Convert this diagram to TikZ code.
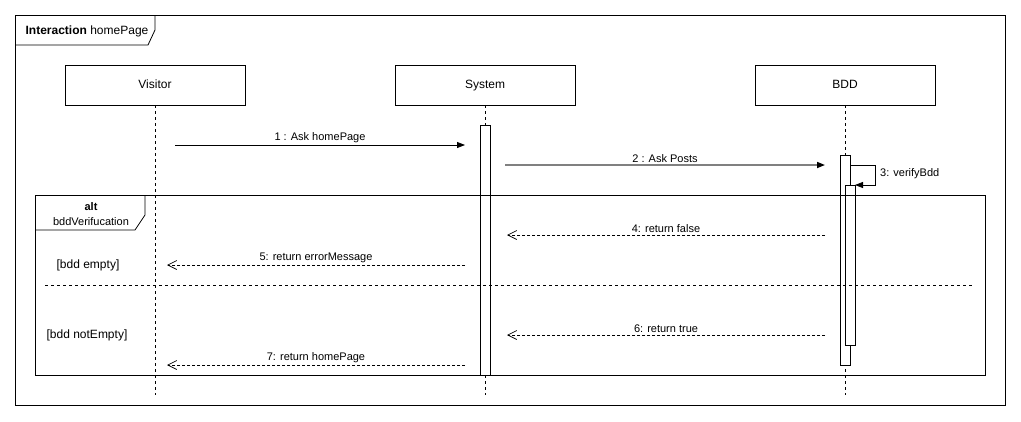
\documentclass[tikz,border=0pt]{standalone}
\usepackage{fontspec}
\setmainfont{Liberation Sans}
\usetikzlibrary{arrows.meta}
\definecolor{msggray}{RGB}{128,128,128}
\begin{document}
\begin{tikzpicture}[x=1pt,y=-1pt,
  every node/.style={font=\fontsize{11}{15}\selectfont},
  head/.style={draw,line width=0.8pt,minimum width=180pt,minimum height=40pt,
    inner sep=0pt,text height=8.6pt,text depth=2.4pt,font=\fontsize{12}{14}\selectfont},
  lifeline/.style={dash pattern=on 3pt off 3pt,line width=0.8pt},
  act/.style={draw,fill=white,line width=0.8pt,minimum width=10pt,inner sep=0pt},
  call/.style={-{Triangle[length=8pt,width=6pt]},line width=0.8pt},
  reply/.style={-{Straight Barb[length=9pt,width=9pt]},dash pattern=on 3pt off 2pt,line width=0.7pt},
  guard/.style={font=\fontsize{12}{14}\selectfont},
  lbl/.style={above,inner sep=2pt}]
  \useasboundingbox (0,0) rectangle (1021,421);

  % Interaction frame
  \draw[line width=0.8pt] (15,15) rectangle (1005,405);
  \draw[line width=0.8pt] (15,45) -- (148,45) -- (155,30) -- (155,15);
  \node[font=\fontsize{12}{14}\selectfont] (frameLbl) at (87,31) {\textbf{Interaction} homePage};

  % Lifeline heads
  \node[head] (visitor) at (155,85) {Visitor};
  \node[head] (system) at (485,85) {System};
  \node[head] (bdd) at (845,85) {BDD};

  % Lifelines
  \draw[lifeline] (visitor.south) -- ++(0,290);
  \draw[lifeline] (system.south) -- ++(0,290);
  \draw[lifeline] (bdd.south) -- ++(0,290);

  % Activations
  \node[act,minimum height=250pt] (sysAct) at (485,250) {};
  \node[act,minimum height=210pt] (bddAct) at (845,260) {};
  \node[act,minimum height=160pt] (bddCheck) at (850,265) {};

  % Message end points
  \coordinate (askHomeA) at (175,145);  \coordinate (askHomeB) at (465,145);
  \coordinate (askPostsA) at (505,165); \coordinate (askPostsB) at (825,165);
  \coordinate (verifyA) at (850,165);   \coordinate (verifyB) at (855,185);
  \coordinate (falseA) at (825,235);    \coordinate (falseB) at (507,235);
  \coordinate (errorA) at (465,265);    \coordinate (errorB) at (167,265);
  \coordinate (trueA) at (825,335);     \coordinate (trueB) at (507,335);
  \coordinate (homeA) at (465,365);     \coordinate (homeB) at (167,365);

  % Calls
  \draw[call] (askHomeA) -- (askHomeB) node[lbl,midway] {1 : Ask homePage};
  \draw[call,msggray,line width=1.6pt,-{Triangle[length=8pt,width=6pt,black]}]
    (askPostsA) -- (askPostsB) node[lbl,midway,black] {2 : Ask Posts};
  \draw[call] (verifyA) -- (875,165) -- (875,185) -- (verifyB);
  \node[anchor=west,inner sep=0pt] (verifyLbl) at (880,174) {3: verifyBdd};

  % Alternative fragment
  \draw[line width=0.8pt] (35,195) rectangle (985,375);
  \draw[line width=0.8pt] (35,230) -- (135,230) -- (145,215) -- (145,195);
  \node[align=center,inner sep=0pt] (altLbl) at (91,214) {\textbf{alt}\\bddVerifucation};
  \node[guard] (emptyLbl) at (88,265) {[bdd empty]};
  \node[guard] (notEmptyLbl) at (87,335) {[bdd notEmpty]};
  \draw[lifeline] (45,285) -- (973,285);

  % Replies
  \draw[reply] (falseA) -- (falseB) node[lbl,midway] {4: return false};
  \draw[reply] (errorA) -- (errorB) node[lbl,midway] {5: return errorMessage};
  \draw[reply] (trueA) -- (trueB) node[lbl,midway] {6: return true};
  \draw[reply] (homeA) -- (homeB) node[lbl,midway] {7: return homePage};
\end{tikzpicture}
\end{document}
